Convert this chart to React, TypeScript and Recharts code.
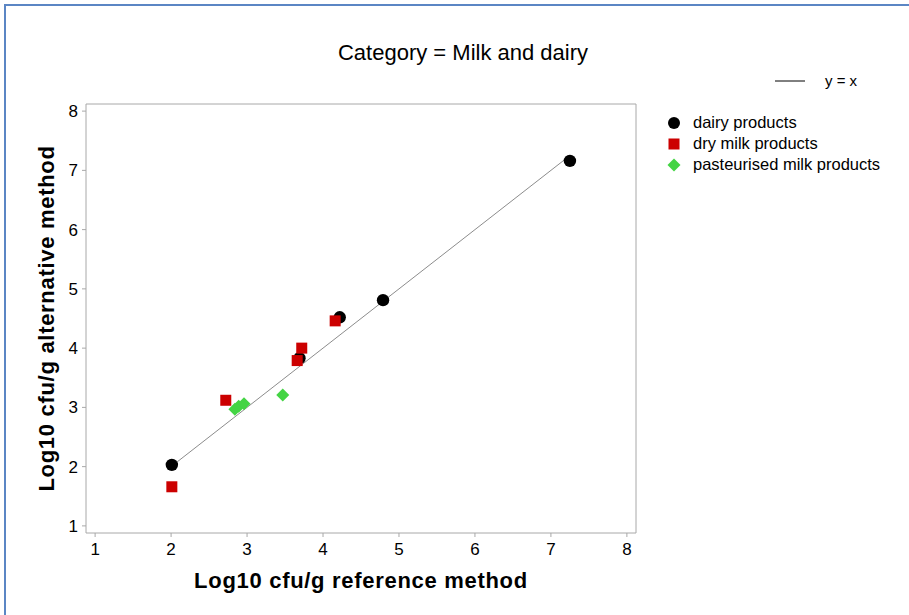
import { ScatterChart, Scatter, XAxis, YAxis } from 'recharts';

const dairyX = [2.01, 7.25, 4.22, 4.79, 3.69];
const dairyY = [2.03, 7.16, 4.52, 4.81, 3.83];
const dryX = [2.01, 2.72, 3.66, 3.72, 4.16];
const dryY = [1.66, 3.12, 3.79, 4.0, 4.46];
const pastX = [2.84, 2.89, 2.96, 3.47];
const pastY = [2.97, 3.02, 3.06, 3.21];
const identityX = [2.0, 7.25];
const axisTicks = [1, 2, 3, 4, 5, 6, 7, 8];

const FONT = '"Liberation Sans", Arial, sans-serif';
const toPoints = (xs: number[], ys: number[]) => xs.map((x, i) => ({ x, y: ys[i] }));

const dairy = toPoints(dairyX, dairyY);
const dry = toPoints(dryX, dryY);
const past = toPoints(pastX, pastY);
const identity = toPoints(identityX, identityX);

const Dot = (p: any) => <circle cx={p.cx} cy={p.cy} r={6.2} fill="#000" />;
const Square = (p: any) => <rect x={p.cx - 5.5} y={p.cy - 5.5} width={11} height={11} fill="#cc0000" />;
const Diamond = (p: any) => (
  <polygon
    points={`${p.cx},${p.cy - 6.5} ${p.cx + 6.5},${p.cy} ${p.cx},${p.cy + 6.5} ${p.cx - 6.5},${p.cy}`}
    fill="#44d444"
  />
);

function LegendBox() {
  const row = { display: 'flex', alignItems: 'center', height: 21 };
  const txt = { fontSize: 16.5, color: '#000', marginLeft: 12 };
  return (
    <div style={{ position: 'absolute', left: 667, top: 65, width: 240, fontFamily: FONT }}>
      <div style={{ position: 'absolute', left: 108, top: 7, display: 'flex', alignItems: 'center' }}>
        <svg width={30} height={4}><line x1={0} y1={2} x2={30} y2={2} stroke="#000" strokeWidth={1} /></svg>
        <span style={{ fontSize: 15, marginLeft: 20 }}>y = x</span>
      </div>
      <div style={{ paddingTop: 47 }}>
        <div style={row}>
          <svg width={14} height={14}><circle cx={7} cy={7} r={6} fill="#000" /></svg>
          <span style={txt}>dairy products</span>
        </div>
        <div style={row}>
          <svg width={14} height={14}><rect x={1.5} y={1.5} width={11} height={11} fill="#cc0000" /></svg>
          <span style={txt}>dry milk products</span>
        </div>
        <div style={row}>
          <svg width={14} height={14}><polygon points="7,0.5 13.5,7 7,13.5 0.5,7" fill="#44d444" /></svg>
          <span style={txt}>pasteurised milk products</span>
        </div>
      </div>
    </div>
  );
}

export default function App() {
  const tickStyle = { fill: '#000', fontSize: 17, fontFamily: FONT };
  const axisTitle = { fontSize: 22, fontWeight: 'bold', fill: '#000', fontFamily: FONT, letterSpacing: 0.7 };
  return (
    <div style={{ position: 'absolute', left: 0, top: 0, width: 909, height: 615, background: '#fff', fontFamily: FONT }}>
      <div
        style={{
          position: 'absolute', left: 4, top: 4, width: 905, height: 611,
          borderTop: '2px solid #5b86c4', borderLeft: '2px solid #5b86c4',
        }}
      />
      <div style={{ position: 'absolute', left: 263, top: 40, width: 400, textAlign: 'center', fontSize: 22, color: '#000' }}>
        Category = Milk and dairy
      </div>
      <LegendBox />
      <div style={{ position: 'absolute', left: 0, top: 0 }}>
        <ScatterChart width={909} height={615} margin={{ top: 103, right: 272, bottom: 52, left: 46 }}>
          <XAxis
            type="number" dataKey="x" domain={[0.88, 8.12]} ticks={axisTicks}
            tick={tickStyle} tickSize={4} tickMargin={6} height={30}
            stroke="#a8a8a8" tickLine={{ stroke: '#a8a8a8' }}
            label={{ value: 'Log10 cfu/g reference method', position: 'bottom', offset: 9, style: axisTitle }}
          />
          <XAxis xAxisId="top" orientation="top" type="number" dataKey="x" domain={[0.88, 8.12]} tick={false} tickLine={false} height={1} stroke="#a8a8a8" />
          <YAxis
            type="number" dataKey="y" domain={[0.88, 8.12]} ticks={axisTicks}
            tick={tickStyle} tickSize={4} tickMargin={4} width={40}
            stroke="#a8a8a8" tickLine={{ stroke: '#a8a8a8' }}
            label={{ value: 'Log10 cfu/g alternative method', angle: -90, position: 'insideLeft', offset: 0, style: { ...axisTitle, textAnchor: 'middle' } }}
          />
          <YAxis yAxisId="right" orientation="right" type="number" dataKey="y" domain={[0.88, 8.12]} tick={false} tickLine={false} width={1} stroke="#a8a8a8" />
          <Scatter data={identity} line={{ stroke: '#8c8c8c', strokeWidth: 1 }} shape={() => null} legendType="none" isAnimationActive={false} />
          <Scatter name="dairy products" data={dairy} shape={Dot} isAnimationActive={false} />
          <Scatter name="dry milk products" data={dry} shape={Square} isAnimationActive={false} />
          <Scatter name="pasteurised milk products" data={past} shape={Diamond} isAnimationActive={false} />
        </ScatterChart>
      </div>
    </div>
  );
}
